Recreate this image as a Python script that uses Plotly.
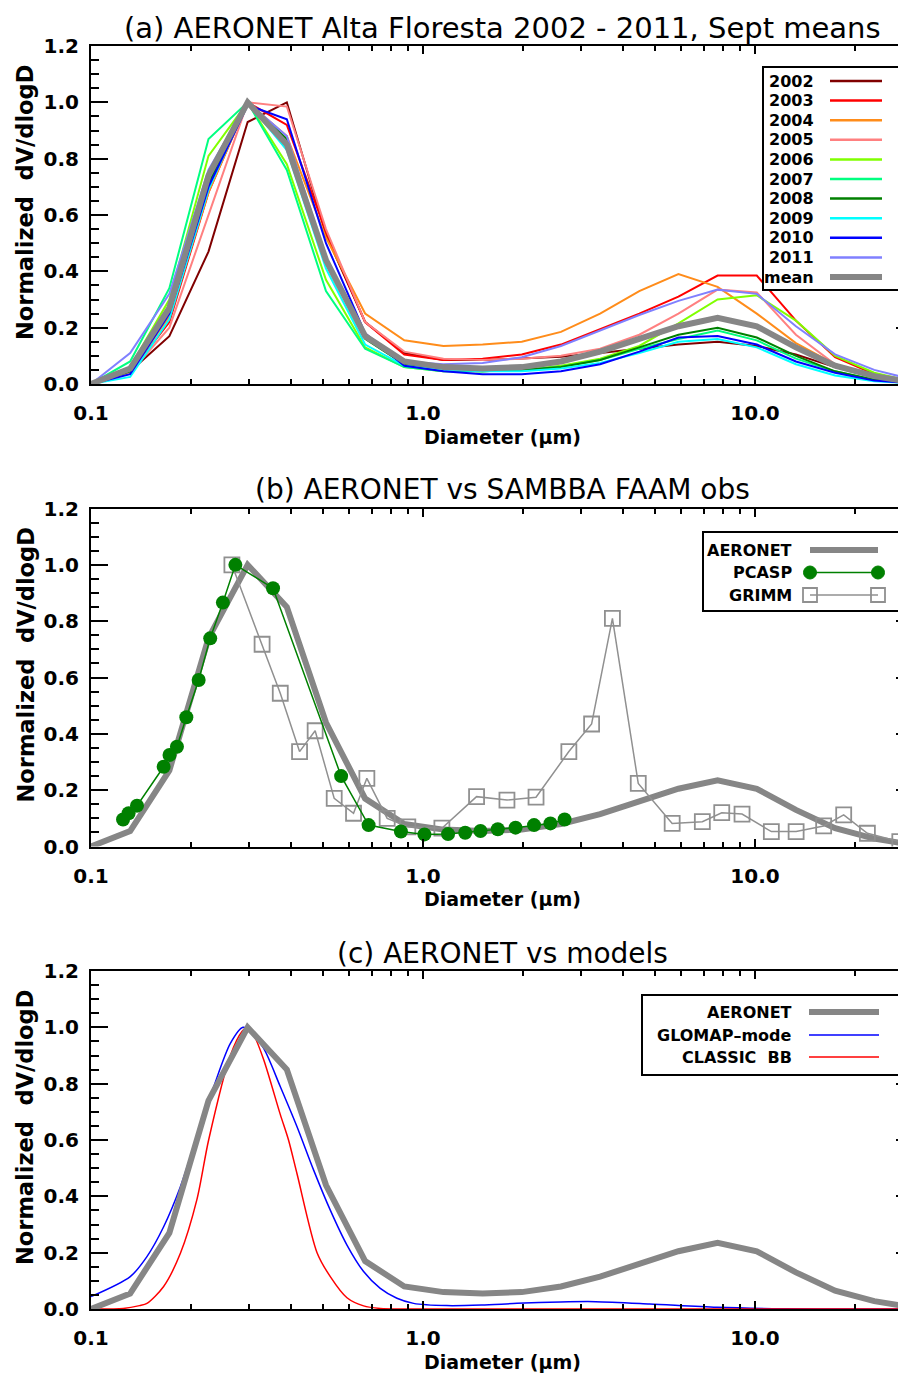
import plotly.graph_objects as go

# ---------------- data ----------------
diam = [0.1, 0.1312, 0.1722, 0.2259, 0.2964, 0.3889, 0.5102, 0.6694, 0.8783, 1.1525,
        1.5121, 1.984, 2.6031, 3.4155, 4.4814, 5.8799, 7.7149, 10.1225, 13.2815,
        17.4263, 22.8646, 30.0]

years = ["2002", "2003", "2004", "2005", "2006", "2007", "2008", "2009", "2010", "2011"]
y2002 = [0.0, 0.045, 0.17, 0.47, 0.93, 1.0, 0.53, 0.22, 0.11, 0.085, 0.085, 0.09, 0.097, 0.11, 0.125, 0.14, 0.15, 0.135, 0.105, 0.06, 0.025, 0.005]
y2003 = [0.0, 0.04, 0.22, 0.68, 1.0, 0.92, 0.54, 0.22, 0.105, 0.085, 0.09, 0.105, 0.14, 0.195, 0.25, 0.31, 0.385, 0.385, 0.225, 0.095, 0.035, 0.01]
y2004 = [0.0, 0.04, 0.24, 0.68, 1.0, 0.88, 0.52, 0.25, 0.155, 0.135, 0.14, 0.15, 0.185, 0.25, 0.33, 0.39, 0.345, 0.25, 0.145, 0.07, 0.028, 0.005]
y2005 = [0.0, 0.04, 0.2, 0.6, 1.0, 0.985, 0.55, 0.22, 0.115, 0.09, 0.085, 0.09, 0.1, 0.125, 0.175, 0.25, 0.335, 0.325, 0.175, 0.07, 0.03, 0.005]
y2006 = [0.0, 0.06, 0.3, 0.81, 1.0, 0.78, 0.37, 0.13, 0.06, 0.045, 0.045, 0.05, 0.065, 0.09, 0.135, 0.215, 0.3, 0.315, 0.225, 0.1, 0.04, 0.008]
y2007 = [0.0, 0.08, 0.34, 0.87, 1.0, 0.76, 0.33, 0.125, 0.06, 0.045, 0.045, 0.05, 0.06, 0.085, 0.125, 0.16, 0.19, 0.155, 0.09, 0.045, 0.015, 0.003]
y2008 = [0.0, 0.045, 0.26, 0.71, 1.0, 0.87, 0.45, 0.16, 0.07, 0.05, 0.045, 0.05, 0.06, 0.085, 0.13, 0.175, 0.2, 0.165, 0.1, 0.045, 0.015, 0.003]
y2009 = [0.0, 0.025, 0.23, 0.69, 1.0, 0.83, 0.41, 0.14, 0.065, 0.05, 0.045, 0.045, 0.055, 0.075, 0.11, 0.15, 0.16, 0.13, 0.07, 0.03, 0.01, 0.002]
y2010 = [0.0, 0.035, 0.25, 0.7, 0.99, 0.94, 0.5, 0.18, 0.065, 0.045, 0.035, 0.035, 0.045, 0.07, 0.115, 0.165, 0.17, 0.14, 0.08, 0.04, 0.012, 0.002]
y2011 = [0.0, 0.11, 0.32, 0.76, 1.0, 0.88, 0.45, 0.17, 0.08, 0.07, 0.075, 0.095, 0.135, 0.19, 0.245, 0.295, 0.335, 0.32, 0.205, 0.105, 0.05, 0.015]
mean = [0.0, 0.055, 0.27, 0.74, 1.0, 0.85, 0.44, 0.17, 0.08, 0.06, 0.055, 0.06, 0.08, 0.115, 0.16, 0.205, 0.235, 0.205, 0.13, 0.065, 0.028, 0.005]
year_series = [y2002, y2003, y2004, y2005, y2006, y2007, y2008, y2009, y2010, y2011]
year_colors = ["#800000", "#ff0000", "#ff8c1a", "#ff8080", "#80ff00",
               "#00ff80", "#008000", "#00ffff", "#0000ff", "#8080ff"]

pcasp_d = [0.1249, 0.1298, 0.1376, 0.1655, 0.1724, 0.1815, 0.1937, 0.2110, 0.2286, 0.2496,
           0.2722, 0.3534, 0.5667, 0.6857, 0.8581, 1.01, 1.19, 1.34, 1.49, 1.68, 1.90,
           2.16, 2.42, 2.67]
pcasp_v = [0.096, 0.118, 0.145, 0.283, 0.325, 0.354, 0.459, 0.591, 0.739, 0.866,
           1.0, 0.917, 0.25, 0.076, 0.053, 0.043, 0.044, 0.049, 0.055, 0.061, 0.067,
           0.076, 0.082, 0.096]

grimm_d = [0.2657, 0.3276, 0.3716, 0.4248, 0.4733, 0.5402, 0.6177, 0.6775, 0.780, 0.90,
           1.14, 1.45, 1.79, 2.19, 2.75, 3.22, 3.72, 4.45, 5.63, 6.94, 7.94, 9.14,
           11.2, 13.3, 16.1, 18.5, 21.8, 27.3, 32.0]
grimm_v = [1.0, 0.718, 0.544, 0.337, 0.411, 0.171, 0.118, 0.242, 0.10, 0.07,
           0.065, 0.177, 0.165, 0.175, 0.337, 0.435, 0.81, 0.224, 0.082, 0.088, 0.12, 0.115,
           0.053, 0.053, 0.073, 0.112, 0.047, 0.017, 0.54]

glomap_d = [0.1, 0.1313, 0.1474, 0.1655, 0.1859, 0.2086, 0.2342, 0.2629, 0.287, 0.3022,
            0.3313, 0.3718, 0.4174, 0.4684, 0.5257, 0.5902, 0.6623, 0.7435, 0.8345, 0.9366,
            1.18, 1.5, 1.92, 2.6, 3.31, 4.82, 7.68, 12.2, 20.0, 30.0]
glomap_v = [0.044, 0.115, 0.186, 0.292, 0.434, 0.612, 0.789, 0.943, 1.0, 0.985,
            0.925, 0.789, 0.647, 0.493, 0.351, 0.227, 0.133, 0.073, 0.038, 0.02,
            0.012, 0.014, 0.02, 0.025, 0.026, 0.018, 0.006, 0.001, 0.0, 0.0]

classic_d = [0.1, 0.125, 0.14, 0.1474, 0.1655, 0.1859, 0.2086, 0.2261, 0.2629, 0.285, 0.296,
             0.31, 0.3313, 0.3718, 0.3935, 0.4174, 0.4796, 0.5257, 0.5902, 0.6623, 0.7435,
             0.9, 30.0]
classic_v = [0.0, 0.002, 0.012, 0.02, 0.08, 0.198, 0.39, 0.6, 0.9, 0.985, 1.0,
             0.97, 0.885, 0.69, 0.6, 0.48, 0.2, 0.115, 0.04, 0.011, 0.002,
             0.0, 0.0]

titles = ["(a) AERONET Alta Floresta 2002 - 2011, Sept means",
          "(b) AERONET vs SAMBBA FAAM obs",
          "(c) AERONET vs models"]
title_sizes = [29, 28, 28]
xtick_vals = [0.1, 1.0, 10.0]
xtick_text = ["0.1", "1.0", "10.0"]
xminor_vals = [0.2, 0.3, 0.4, 0.5, 0.6, 0.7, 0.8, 0.9, 2, 3, 4, 5, 6, 7, 8, 9, 20, 30]

# ---------------- layout helpers ----------------
# page is 906x1378; the plot div sits 8px in from the top-left (body margin)
PAGE_W, PAGE_H, OFF = 906, 1378, 8
W, H = PAGE_W - OFF, PAGE_H - OFF
def P(x):          # page pixel x -> paper fraction
    return (x - OFF) / W
def Q(y):          # page pixel y -> paper fraction
    return 1 - (y - OFF) / H

panels = [(46, 384), (508.5, 846.5), (971, 1309)]
title_y = [28, 490, 953]
xlab_y = [437, 899, 1362]
x_left = 91
x_range = [-1, -1 + (PAGE_W - x_left) / 332.0]

GRAY = "#868686"
fig = go.Figure()

# panel (a)
for name, vals, col in zip(years, year_series, year_colors):
    fig.add_trace(go.Scatter(x=diam, y=vals, mode="lines", name=name,
                             line=dict(color=col, width=2), xaxis="x", yaxis="y",
                             showlegend=False))
fig.add_trace(go.Scatter(x=diam, y=mean, mode="lines", name="mean",
                         line=dict(color=GRAY, width=6), xaxis="x", yaxis="y",
                         showlegend=False))

# panel (b)
fig.add_trace(go.Scatter(x=diam, y=mean, mode="lines", name="AERONET",
                         line=dict(color=GRAY, width=6), xaxis="x2", yaxis="y2",
                         showlegend=False))
fig.add_trace(go.Scatter(x=grimm_d, y=grimm_v, mode="lines+markers", name="GRIMM",
                         line=dict(color="#909090", width=1.5),
                         marker=dict(symbol="square-open", size=15, color="#909090",
                                     line=dict(width=1.8)),
                         xaxis="x2", yaxis="y2", showlegend=False))
fig.add_trace(go.Scatter(x=pcasp_d, y=pcasp_v, mode="lines+markers", name="PCASP",
                         line=dict(color="#008000", width=1.5),
                         marker=dict(symbol="circle", size=14, color="#008000"),
                         xaxis="x2", yaxis="y2", showlegend=False))

# panel (c)
fig.add_trace(go.Scatter(x=glomap_d, y=glomap_v, mode="lines", name="GLOMAP-mode",
                         line=dict(color="#0000ff", width=1.5, shape="spline", smoothing=0.8),
                         xaxis="x3", yaxis="y3", showlegend=False))
fig.add_trace(go.Scatter(x=classic_d, y=classic_v, mode="lines", name="CLASSIC BB",
                         line=dict(color="#ff0000", width=1.5, shape="spline", smoothing=0.8),
                         xaxis="x3", yaxis="y3", showlegend=False))
fig.add_trace(go.Scatter(x=diam, y=mean, mode="lines", name="AERONET",
                         line=dict(color=GRAY, width=6), xaxis="x3", yaxis="y3",
                         showlegend=False))

# invisible carriers for the right-hand (mirrored) tick axes
for k in range(3):
    fig.add_trace(go.Scatter(x=diam, y=mean, mode="lines", opacity=0, hoverinfo="skip",
                             line=dict(width=0), xaxis="x" + ("" if k == 0 else str(k + 1)),
                             yaxis="y" + str(k + 4), showlegend=False))

tickfont = dict(family="DejaVu Sans", size=20, color="black", weight="bold")
layout = dict(width=W, height=H, margin=dict(l=0, r=0, t=0, b=0, autoexpand=False),
              paper_bgcolor="white", plot_bgcolor="white", showlegend=False)
annotations = []
shapes = []
for i, (top, bot) in enumerate(panels):
    s = "" if i == 0 else str(i + 1)
    layout["xaxis" + s] = dict(
        type="log", range=x_range, domain=[P(x_left), 1.0], anchor="y" + s,
        automargin=False,
        showline=True, linecolor="black", linewidth=2, mirror="ticks",
        ticks="inside", ticklen=8, tickwidth=2, tickcolor="black",
        tickvals=xtick_vals, ticktext=xtick_text, tickfont=tickfont,
        ticklabelstandoff=10,
        minor=dict(tickvals=xminor_vals, ticks="inside", ticklen=5, tickwidth=1.5,
                   tickcolor="black", showgrid=False),
        showgrid=False, zeroline=False)
    layout["yaxis" + s] = dict(
        range=[0, 1.2], domain=[Q(bot), Q(top)], anchor="x" + s,
        automargin=False,
        showline=True, linecolor="black", linewidth=2,
        ticks="inside", ticklen=17, tickwidth=2, tickcolor="black",
        tick0=0, dtick=0.2, tickformat=".1f", tickfont=tickfont,
        ticklabelstandoff=6,
        minor=dict(dtick=0.05, tick0=0, ticks="inside", ticklen=8, tickwidth=1.5,
                   tickcolor="black", showgrid=False),
        showgrid=False, zeroline=False)
    layout["yaxis" + str(i + 4)] = dict(
        range=[0, 1.2], overlaying="y" + s, side="right", anchor="free", position=1.0,
        automargin=False, showline=False, showticklabels=False,
        ticks="inside", ticklen=10, tickwidth=2, tickcolor="black",
        tick0=0, dtick=0.2,
        minor=dict(dtick=0.05, tick0=0, ticks="inside", ticklen=2, tickwidth=1.5,
                   tickcolor="black", showgrid=False),
        showgrid=False, zeroline=False)
    annotations.append(dict(text=titles[i], x=P(502), y=Q(title_y[i]), xref="paper", yref="paper",
                            xanchor="center", yanchor="middle", showarrow=False,
                            font=dict(family="DejaVu Sans", size=title_sizes[i], color="black")))
    annotations.append(dict(text="Diameter (\u03bcm)", x=P(502), y=Q(xlab_y[i]), xref="paper",
                            yref="paper", xanchor="center", yanchor="middle", showarrow=False,
                            font=dict(family="DejaVu Sans", size=19, color="black", weight="bold")))
    annotations.append(dict(text="Normalized\u00a0 dV/dlogD", x=P(25), y=Q((top + bot) / 2 - 12),
                            xref="paper", yref="paper", xanchor="center", yanchor="middle",
                            textangle=-90, showarrow=False,
                            font=dict(family="DejaVu Sans", size=22.5, color="black", weight="bold")))

legfont = dict(family="DejaVu Sans", size=16, color="black", weight="bold")

def legend_box(x0, y0, x1, y1):
    shapes.append(dict(type="rect", xref="paper", yref="paper", x0=P(x0), x1=P(x1),
                       y0=Q(y1), y1=Q(y0), line=dict(color="black", width=2),
                       fillcolor="white", layer="above"))

def legend_entry(label, ytext, xtext, lx0, lx1, color, width):
    annotations.append(dict(text=label, x=P(xtext), y=Q(ytext), xref="paper", yref="paper",
                            xanchor="right", yanchor="middle", showarrow=False, font=legfont))
    shapes.append(dict(type="line", xref="paper", yref="paper", x0=P(lx0), x1=P(lx1),
                       y0=Q(ytext), y1=Q(ytext), line=dict(color=color, width=width),
                       layer="above"))

# legend (a)
legend_box(763, 67, 900, 290)
for k, (name, col) in enumerate(zip(years + ["mean"], year_colors + [GRAY])):
    yy = 81 + 19.6 * k
    legend_entry(name, yy, 816, 830, 882, col, 6 if name == "mean" else 2.5)

# legend (b)
legend_box(703, 532, 899, 611)
legend_entry("AERONET", 550, 794, 810, 878, GRAY, 6)
legend_entry("PCASP", 572.5, 794, 810, 878, "#008000", 1.5)
legend_entry("GRIMM", 595, 794, 810, 878, "#909090", 1.5)
for cx in (810, 878):
    r = 6.5
    shapes.append(dict(type="circle", xref="paper", yref="paper", x0=P(cx - r), x1=P(cx + r),
                       y0=Q(572.5 + r), y1=Q(572.5 - r), fillcolor="#008000",
                       line=dict(color="#008000", width=1), layer="above"))
    r = 7
    shapes.append(dict(type="rect", xref="paper", yref="paper", x0=P(cx - r), x1=P(cx + r),
                       y0=Q(595 + r), y1=Q(595 - r), fillcolor="rgba(0,0,0,0)",
                       line=dict(color="#909090", width=1.8), layer="above"))

# legend (c)
legend_box(642, 995, 899, 1075)
legend_entry("AERONET", 1012, 794, 809, 879, GRAY, 6)
legend_entry("GLOMAP\u2013mode", 1035, 794, 809, 879, "#0000ff", 1.5)
legend_entry("CLASSIC\u00a0 BB", 1057, 794, 809, 879, "#ff0000", 1.5)

layout["annotations"] = annotations
layout["shapes"] = shapes
fig.update_layout(**layout)
fig.write_html("out.html")
